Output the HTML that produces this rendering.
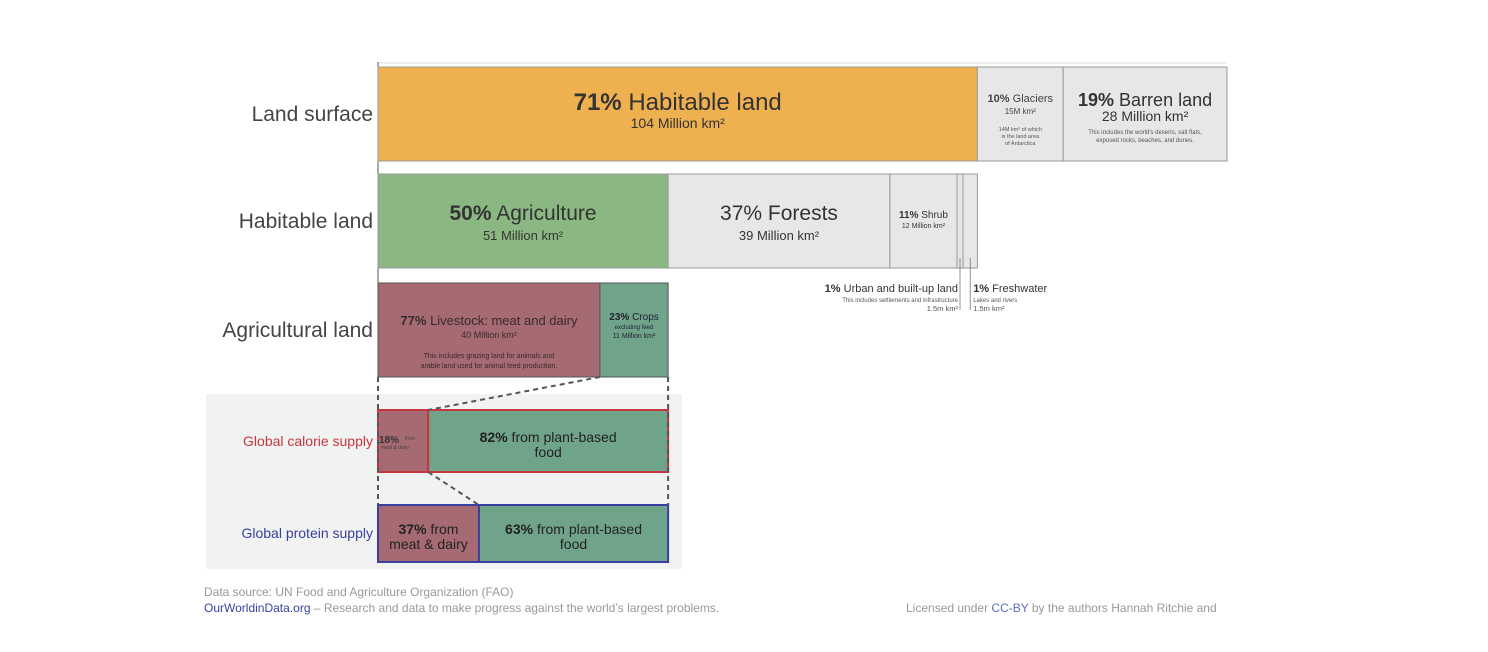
<!DOCTYPE html>
<html><head><meta charset="utf-8"><style>
html,body{margin:0;padding:0;background:#fff;width:1488px;height:652px;overflow:hidden}
svg{display:block;font-family:"Liberation Sans",sans-serif}
</style></head><body>
<svg id="chart" width="1488" height="652" viewBox="0 0 1488 652" xmlns="http://www.w3.org/2000/svg">
<rect x="206" y="394" width="476" height="175" fill="#f1f2f2"/>
<line x1="378" y1="63" x2="1227" y2="63" stroke="#ddd" stroke-width="1"/>
<line x1="378" y1="62" x2="378" y2="377" stroke="#555" stroke-width="1"/>
<text x="373" y="121" text-anchor="end" font-size="21" fill="#444">Land surface</text>
<text x="373" y="228" text-anchor="end" font-size="21" fill="#444">Habitable land</text>
<text x="373" y="337" text-anchor="end" font-size="21" fill="#444">Agricultural land</text>
<text x="373" y="446" text-anchor="end" font-size="14" fill="#c8353f">Global calorie supply</text>
<text x="373" y="538" text-anchor="end" font-size="14" fill="#3a3fa0">Global protein supply</text>
<g id="marks"></g>
<g font-size="12" fill="#999">
<text x="204" y="596">Data source: UN Food and Agriculture Organization (FAO)</text>
<text x="204" y="612"><tspan fill="#3a3fa0">OurWorldinData.org</tspan> – Research and data to make progress against the world’s largest problems.</text>
<text x="906" y="612">Licensed under <tspan fill="#5a6fc0">CC-BY</tspan> by the authors Hannah Ritchie and</text>
</g>
</svg>
<script>
// data (shares as drawn, percent)
const landLabels = ["Habitable land","Glaciers","Barren land"];
const landShares = [70.6, 10.1, 19.3];
const habitableLabels = ["Agriculture","Forests","Shrub","Urban","Freshwater"];
const habitableShares = [48.4, 37, 11.2, 1, 2.4];
const agriLabels = ["Livestock","Crops"];
const agriShares = [76.5, 23.5];
const calorieShares = [17.3, 82.7];
const proteinShares = [34.8, 65.2];

const NS = "http://www.w3.org/2000/svg";
const g = document.getElementById("marks");
const X0 = 378;
function el(tag, attrs, parent){const e=document.createElementNS(NS,tag);for(const k in attrs)e.setAttribute(k,attrs[k]);(parent||g).appendChild(e);return e;}
function txt(x,y,size,content,opts){const t=el("text",Object.assign({x:x,y:y,"font-size":size,"text-anchor":"middle",fill:"#333"},opts||{}));t.innerHTML=content;return t;}

const landW = 849;
const xLand = p => p/100*landW;
const habW = xLand(landShares[0]);
const xHab = p => p/100*habW;
const agW = xHab(habitableShares[0]);
const xAg = p => p/100*agW;

// row 1
const landFill=["#efb04f","#e6e7e9","#e6e7e9"];
let x=X0;
landShares.forEach((v,i)=>{const w=xLand(v);const r=el("rect",{x:x,y:67,width:w,height:94,fill:landFill[i],stroke:"#999","stroke-width":1});


x+=w;});
let b=X0;
const c1=b+xLand(landShares[0])/2;
txt(c1,110,24,'<tspan font-weight="bold">71%</tspan> Habitable land');
txt(c1,128,14,'104 Million km²');
const c2=b+xLand(landShares[0])+xLand(landShares[1])/2;
txt(c2,102,11,'<tspan font-weight="bold">10%</tspan> Glaciers',{fill:"#444"});
txt(c2,114,8,'15M km²',{fill:"#444"});
txt(c2,131,5.5,'14M km² of which',{fill:"#555"});txt(c2,138,5.5,'is the land area',{fill:"#555"});txt(c2,145,5.5,'of Antarctica',{fill:"#555"});
const c3=b+xLand(landShares[0]+landShares[1])+xLand(landShares[2])/2;
txt(c3,106,18,'<tspan font-weight="bold">19%</tspan> Barren land');
txt(c3,121,14,'28 Million km²');
txt(c3,134,6,'This includes the world\'s deserts, salt flats,',{fill:"#555"});
txt(c3,142,6,'exposed rocks, beaches, and dunes.',{fill:"#555"});

// row 2
const habFill=["#8bb783","#e6e7e9","#e6e7e9","#e6e7e9","#e6e7e9"];
x=X0;const habX=[];
habitableShares.forEach((v,i)=>{const w=xHab(v);habX.push(x);const r=el("rect",{x:x,y:174,width:w,height:94,fill:habFill[i],stroke:"#999","stroke-width":1});


x+=w;});
txt(habX[0]+xHab(habitableShares[0])/2,220,21,'<tspan font-weight="bold">50%</tspan> Agriculture');
txt(habX[0]+xHab(habitableShares[0])/2,240,13,'51 Million km²');
txt(habX[1]+xHab(habitableShares[1])/2,220,21,'37% Forests');
txt(habX[1]+xHab(habitableShares[1])/2,240,13,'39 Million km²');
txt(habX[2]+xHab(habitableShares[2])/2,218,10,'<tspan font-weight="bold">11%</tspan> Shrub');
txt(habX[2]+xHab(habitableShares[2])/2,228,7,'12 Million km²');
const uX=habX[3]+xHab(habitableShares[3])/2, fX=habX[4]+xHab(habitableShares[4])/2;
el("line",{x1:uX,y1:258,x2:uX,y2:310,stroke:"#666","stroke-width":0.7});
el("line",{x1:fX,y1:258,x2:fX,y2:310,stroke:"#666","stroke-width":0.7});
txt(uX-2,292,11,'<tspan font-weight="bold">1%</tspan> Urban and built-up land',{"text-anchor":"end"});
txt(uX-2,302,6,'This includes settlements and infrastructure',{"text-anchor":"end",fill:"#555"});
txt(uX-2,311,7.5,'1.5m km²',{"text-anchor":"end",fill:"#555"});
txt(fX+3,292,11,'<tspan font-weight="bold">1%</tspan> Freshwater',{"text-anchor":"start"});
txt(fX+3,302,6,'Lakes and rivers',{"text-anchor":"start",fill:"#555"});
txt(fX+3,311,7.5,'1.5m km²',{"text-anchor":"start",fill:"#555"});

// row 3
const agFill=["#a56a72","#6fa38a"];
x=X0;const agX=[];
agriShares.forEach((v,i)=>{const w=xAg(v);agX.push(x);const r=el("rect",{x:x,y:283,width:w,height:94,fill:agFill[i],stroke:"#555","stroke-width":1});


x+=w;});
const lc=agX[0]+xAg(agriShares[0])/2;
txt(lc,325,13,'<tspan font-weight="bold">77%</tspan> Livestock: meat and dairy',{fill:"#3a2a2c"});
txt(lc,338,9,'40 Million km²',{fill:"#3a2a2c"});
txt(lc,358,7,'This includes grazing land for animals and',{fill:"#3a2a2c"});
txt(lc,368,7,'arable land used for animal feed production.',{fill:"#3a2a2c"});
const cc=agX[1]+xAg(agriShares[1])/2;
txt(cc,320,10,'<tspan font-weight="bold">23%</tspan> Crops',{fill:"#223"});
txt(cc,329,6,'excluding feed',{fill:"#223"});
txt(cc,338,7,'11 Million km²',{fill:"#223"});

// food supply bars
const xF = p => p/100*agW;
function supply(arr,y,h,stroke,name){let xx=X0;const xs=[];arr.forEach((v,i)=>{const w=xF(v);xs.push(xx);const r=el("rect",{x:xx,y:y,width:w,height:h,fill:agFill[i],stroke:stroke,"stroke-width":2});


xx+=w;});return xs;}
const calX=supply(calorieShares,410,62,"#c8353f","calorie");
const proX=supply(proteinShares,505,57,"#3a3fa0","protein");
const agEnd=X0+agW, livEnd=X0+xAg(agriShares[0]);
const da={stroke:"#555","stroke-width":2,"stroke-dasharray":"5,4"};
el("line",Object.assign({x1:X0,y1:377,x2:X0,y2:505},da));
el("line",Object.assign({x1:agEnd,y1:377,x2:agEnd,y2:505},da));
el("line",Object.assign({x1:livEnd,y1:377,x2:calX[1],y2:410},da));
el("line",Object.assign({x1:calX[1],y1:472,x2:proX[1],y2:505},da));
txt(X0+1,443,10,'<tspan font-weight="bold">18%</tspan>',{"text-anchor":"start",fill:"#333"});
txt(X0+27,440,5,'from',{"text-anchor":"start",fill:"#444"});
txt(X0+3,449,5,'meat &amp; dairy',{"text-anchor":"start",fill:"#444"});
const cp=calX[1]+xF(calorieShares[1])/2;
txt(cp,442,14,'<tspan font-weight="bold">82%</tspan> from plant-based',{fill:"#222"});
txt(cp,457,14,'food',{fill:"#222"});
const pa=X0+xF(proteinShares[0])/2;
txt(pa,534,14,'<tspan font-weight="bold">37%</tspan> from',{fill:"#222"});
txt(pa,549,14,'meat &amp; dairy',{fill:"#222"});
const pp=proX[1]+xF(proteinShares[1])/2;
txt(pp,534,14,'<tspan font-weight="bold">63%</tspan> from plant-based',{fill:"#222"});
txt(pp,549,14,'food',{fill:"#222"});
</script>
</body></html>
